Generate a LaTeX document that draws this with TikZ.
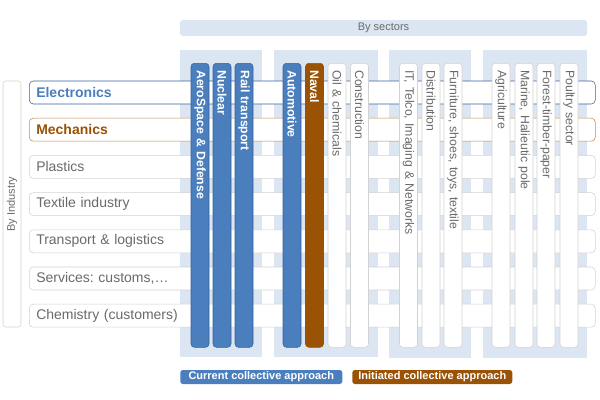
\documentclass[tikz,border=0pt]{standalone}
\usepackage{fontspec}
\setmainfont{Liberation Sans}
\frenchspacing
\definecolor{panelblue}{HTML}{DCE6F2}
\definecolor{colblue}{HTML}{4A7EBD}
\definecolor{colblueline}{HTML}{3463A3}
\definecolor{colbrown}{HTML}{9A5205}
\definecolor{rowbrownline}{HTML}{C08A50}
\definecolor{textgray}{HTML}{6A6A6A}
\definecolor{linegray}{HTML}{D2D2D2}
\begin{document}
\begin{tikzpicture}[x=0.75pt, y=-0.75pt,
  rowbox/.style={anchor=west, draw=linegray, fill=white, rounded corners=3pt, minimum width=424.5pt, minimum height=17.25pt, text width=414pt, inner xsep=5.25pt, align=left, font=\fontsize{10.5}{12}\selectfont, text=textgray},
  sectcol/.style={anchor=west, rotate=-90, rounded corners=2.5pt, minimum width=213pt, minimum height=13.5pt, text width=202.5pt, inner xsep=5.25pt, inner ysep=0pt, align=left},
  whitecol/.style={sectcol, fill=white, draw=linegray, text=textgray, font=\fontsize{9.2}{10}\selectfont},
  bluecol/.style={sectcol, fill=colblue, draw=colblueline, text=white, font=\fontsize{9.2}{10}\selectfont\bfseries},
  browncol/.style={sectcol, fill=colbrown, draw=colbrown, text=white, font=\fontsize{9.2}{10}\selectfont\bfseries},
  legendbox/.style={anchor=west, rounded corners=2pt, minimum height=10.5pt, inner sep=0pt, text=white, font=\fontsize{8.25}{9}\selectfont\bfseries}]
  \useasboundingbox (0,0) rectangle (600,400);
  % sector panels
  \fill[panelblue] (180,50) rectangle (262,357);
  \fill[panelblue] (274,50) rectangle (378,357);
  \fill[panelblue] (389,50) rectangle (471,358);
  \fill[panelblue] (483,50) rectangle (587,358);
  \draw
    (383.5,28) node[fill=panelblue, rounded corners=2pt, minimum width=305.25pt, minimum height=12pt, inner sep=0pt, text=textgray, font=\fontsize{8.25}{9}\selectfont] (sectors){By sectors}
    (12,204) node[rotate=90, draw=linegray, fill=white, rounded corners=2pt, minimum width=184.5pt, minimum height=13.5pt, inner sep=0pt, text=textgray, font=\fontsize{8.25}{9}\selectfont] (industry){By Industry};
  % industries
  \draw
    (29,92.5) node[rowbox, draw=colblueline, text=colblue, font=\fontsize{10.5}{12}\selectfont\bfseries] (electronics){Electronics}
    (29,129.7) node[rowbox, draw=rowbrownline, text=colbrown, font=\fontsize{10.5}{12}\selectfont\bfseries] (mechanics){Mechanics}
    (29,166.9) node[rowbox] (plastics){Plastics}
    (29,204.1) node[rowbox] (textile){Textile industry}
    (29,241.3) node[rowbox] (transport){Transport \& logistics}
    (29,278.5) node[rowbox] (services){Services: customs,\dots}
    (29,315.7) node[rowbox] (chemistry){Chemistry (customers)};
  % sectors
  \draw
    (200,63) node[bluecol] (aerospace){AeroSpace \& Defense}
    (222,63) node[bluecol] (nuclear){Nuclear}
    (244,63) node[bluecol] (rail){Rail transport}
    (292,63) node[bluecol] (automotive){Automotive}
    (314.5,63) node[browncol] (naval){Naval}
    (337,63) node[whitecol] (oil){Oil \& chemicals}
    (359.5,63) node[whitecol] (construction){Construction}
    (408.5,63) node[whitecol] (it){IT, Telco, Imaging \& Networks}
    (431,63) node[whitecol] (distribution){Distribution}
    (453,63) node[whitecol] (furniture){Furniture, shoes, toys, textile}
    (501,63) node[whitecol] (agriculture){Agriculture}
    (524,63) node[whitecol] (marine){Marine, Halieutic pole}
    (546,63) node[whitecol] (forest){Forest-timber-paper}
    (569,63) node[whitecol] (poultry){Poultry sector};
  % legend
  \draw
    (180,377) node[legendbox, fill=colblue, minimum width=121.5pt] (current){Current collective approach}
    (352,377) node[legendbox, fill=colbrown, minimum width=120pt] (initiated){Initiated collective approach};
\end{tikzpicture}
\end{document}
